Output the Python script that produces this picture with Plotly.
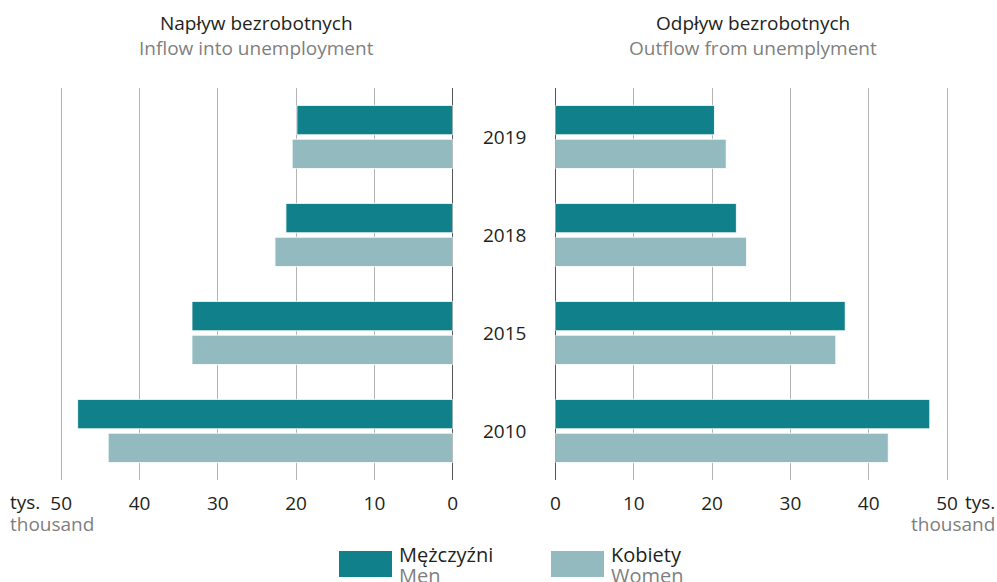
import plotly.graph_objects as go

years = ['2010', '2015', '2018', '2019']
inflow_men = [47.9, 33.3, 21.3, 19.9]
inflow_women = [44.0, 33.3, 22.7, 20.5]
outflow_men = [47.8, 37.0, 23.1, 20.3]
outflow_women = [42.5, 35.8, 24.4, 21.8]
tick_vals = [0, 10, 20, 30, 40, 50]

MEN = '#10808a'
WOMEN = '#92babf'
GRID = '#b3b3b3'
DARK = '#231f20'
GREY = '#7f7f7f'
FONT = 'Open Sans'

W, H = 997, 582
px_per_unit = 78.3 / 10
left_zero, right_zero = 452.7, 555.5
top_px, bottom_px = 88, 480
rng_max = 51

fig = go.Figure()
bar_line = dict(color='rgba(255,255,255,0.85)', width=1)
fig.add_trace(go.Bar(y=years, x=inflow_women, orientation='h', marker=dict(color=WOMEN, line=bar_line),
                     xaxis='x', yaxis='y', showlegend=False, name='Kobiety'))
fig.add_trace(go.Bar(y=years, x=inflow_men, orientation='h', marker=dict(color=MEN, line=bar_line),
                     xaxis='x', yaxis='y', showlegend=False, name='Mężczyźni'))
fig.add_trace(go.Bar(y=years, x=outflow_women, orientation='h', marker=dict(color=WOMEN, line=bar_line),
                     xaxis='x2', yaxis='y2', showlegend=False, name='Kobiety'))
fig.add_trace(go.Bar(y=years, x=outflow_men, orientation='h', marker=dict(color=MEN, line=bar_line),
                     xaxis='x2', yaxis='y2', showlegend=False, name='Mężczyźni'))

ydom = [(H - bottom_px) / H, (H - top_px) / H]
xdom1 = [(left_zero - rng_max * px_per_unit) / W, left_zero / W]
xdom2 = [right_zero / W, (right_zero + rng_max * px_per_unit) / W]

xcommon = dict(type='linear', tickvals=tick_vals, ticktext=[str(v) for v in tick_vals], showgrid=True,
               gridcolor=GRID, gridwidth=1, zeroline=True, zerolinecolor='#555555', zerolinewidth=1,
               ticks='outside', ticklen=6, tickcolor='rgba(0,0,0,0)', automargin=False,
               tickfont=dict(family=FONT, size=19, color=DARK), showline=False, fixedrange=True)
ycommon = dict(type='category', categoryorder='array', categoryarray=years, range=[-0.5, 3.5],
               automargin=False, showticklabels=False, showgrid=False, zeroline=False, ticks='',
               fixedrange=True)

fig.update_layout(
    width=W, height=H, margin=dict(l=0, r=0, t=0, b=0, autoexpand=False),
    paper_bgcolor='white', plot_bgcolor='white',
    barmode='group', bargap=0.31, bargroupgap=0.13,
    font=dict(family=FONT, color=DARK),
    xaxis=dict(domain=xdom1, range=[rng_max, 0], anchor='y', **xcommon),
    xaxis2=dict(domain=xdom2, range=[0, rng_max], anchor='y2', **xcommon),
    yaxis=dict(domain=ydom, anchor='x', **ycommon),
    yaxis2=dict(domain=ydom, anchor='x2', **ycommon),
)

ann = []
# year labels in the middle (category index on the y axis)
for i, yv in enumerate(years):
    ann.append(dict(x=504 / W, xref='paper', y=i, yref='y', text=yv, showarrow=False,
                    font=dict(family=FONT, size=19, color=DARK), xanchor='center', yanchor='middle'))

# titles
ann += [
    dict(x=256 / W, y=1 - 23 / H, xref='paper', yref='paper', text='Napływ bezrobotnych', showarrow=False,
         font=dict(family=FONT, size=19, color=DARK), xanchor='center', yanchor='middle'),
    dict(x=256 / W, y=1 - 48 / H, xref='paper', yref='paper', text='Inflow into unemployment', showarrow=False,
         font=dict(family=FONT, size=19, color=GREY), xanchor='center', yanchor='middle'),
    dict(x=753 / W, y=1 - 23 / H, xref='paper', yref='paper', text='Odpływ bezrobotnych', showarrow=False,
         font=dict(family=FONT, size=19, color=DARK), xanchor='center', yanchor='middle'),
    dict(x=753 / W, y=1 - 48 / H, xref='paper', yref='paper', text='Outflow from unemplyment', showarrow=False,
         font=dict(family=FONT, size=19, color=GREY), xanchor='center', yanchor='middle'),
]

# units
ann += [
    dict(x=8 / W, y=1 - 502 / H, xref='paper', yref='paper', text='tys.', showarrow=False,
         font=dict(family=FONT, size=19, color=DARK), xanchor='left', yanchor='middle'),
    dict(x=8 / W, y=1 - 524 / H, xref='paper', yref='paper', text='thousand', showarrow=False,
         font=dict(family=FONT, size=19, color=GREY), xanchor='left', yanchor='middle'),
    dict(x=997 / W, y=1 - 502 / H, xref='paper', yref='paper', text='tys.', showarrow=False,
         font=dict(family=FONT, size=19, color=DARK), xanchor='right', yanchor='middle'),
    dict(x=997 / W, y=1 - 524 / H, xref='paper', yref='paper', text='thousand', showarrow=False,
         font=dict(family=FONT, size=19, color=GREY), xanchor='right', yanchor='middle'),
]

# custom legend
shapes = []
legend_items = [('Mężczyźni', 'Men', MEN, 339), ('Kobiety', 'Women', WOMEN, 551)]
for pl, en, col, x0 in legend_items:
    shapes.append(dict(type='rect', xref='paper', yref='paper', x0=x0 / W, x1=(x0 + 53) / W,
                       y0=1 - 577 / H, y1=1 - 551 / H, fillcolor=col, line=dict(width=0)))
    ann.append(dict(x=(x0 + 58) / W, y=1 - 554 / H, xref='paper', yref='paper', text=pl, showarrow=False,
                    font=dict(family=FONT, size=20, color=DARK), xanchor='left', yanchor='middle'))
    ann.append(dict(x=(x0 + 58) / W, y=1 - 575 / H, xref='paper', yref='paper', text=en, showarrow=False,
                    font=dict(family=FONT, size=20, color=GREY), xanchor='left', yanchor='middle'))

fig.update_layout(annotations=ann, shapes=shapes)
fig.write_html('out.html', config={'displayModeBar': False},
               post_script="document.body.style.margin='0px';document.body.style.overflow='hidden';")
